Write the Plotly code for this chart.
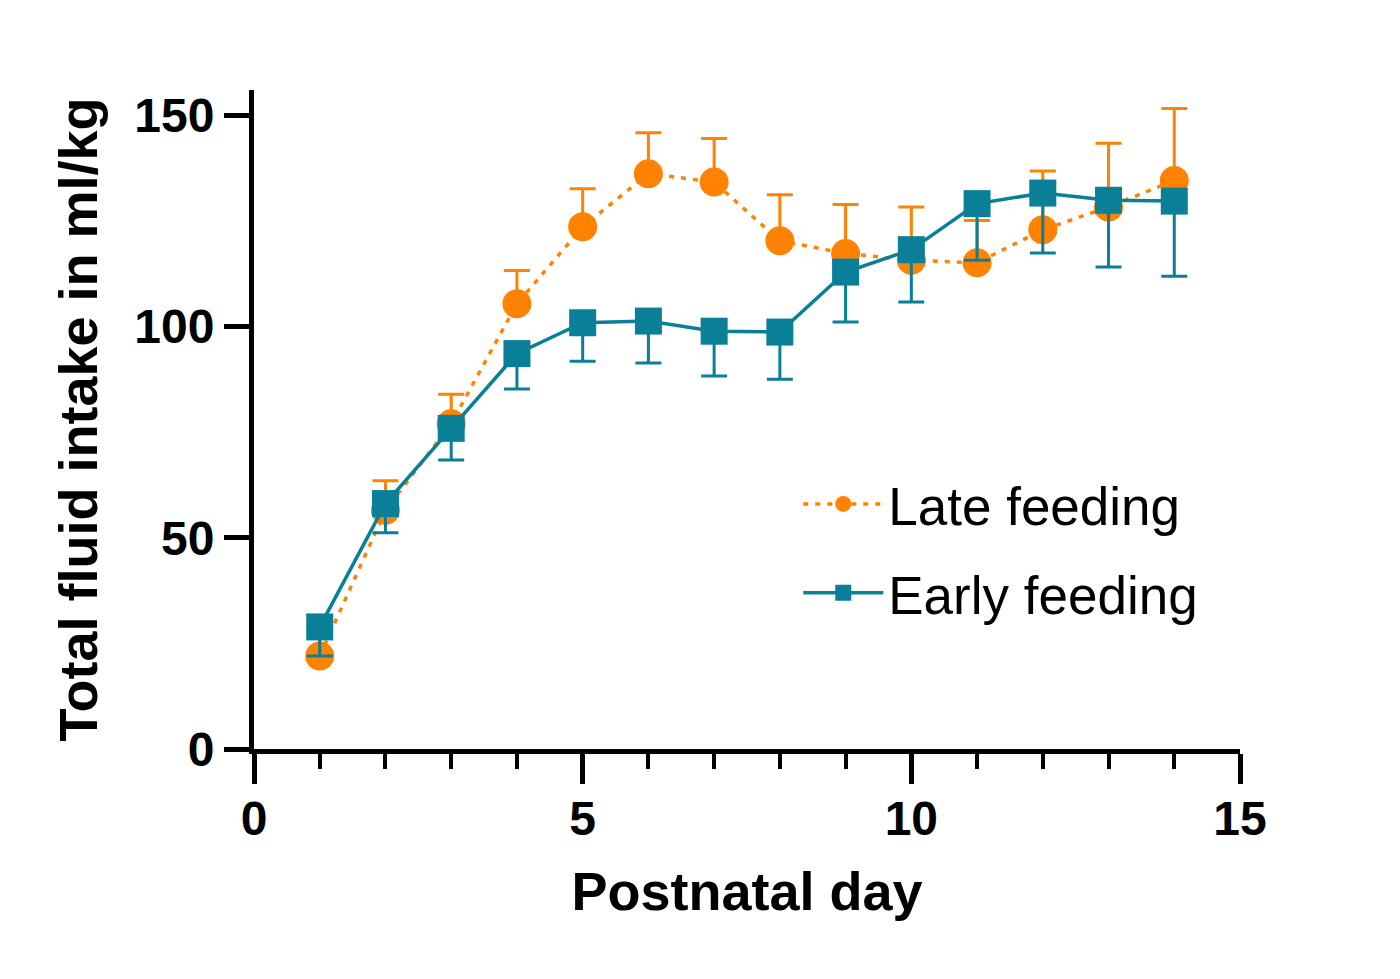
import plotly.graph_objects as go

# 数据
days = [1, 2, 3, 4, 5, 6, 7, 8, 9, 10, 11, 12, 13, 14]
late_mean = [22.0, 56.5, 77.0, 105.4, 123.6, 136.2, 134.2, 120.3, 117.3, 115.7, 115.1, 122.9, 128.3, 134.6]
late_sem = [6.0, 7.0, 7.0, 7.9, 9.0, 9.7, 10.3, 10.9, 11.6, 12.6, 10.0, 13.9, 15.1, 17.0]
early_mean = [28.9, 58.1, 75.9, 93.6, 100.9, 101.3, 98.9, 98.7, 112.9, 118.2, 129.1, 131.6, 129.9, 129.7]
early_sem = [6.9, 6.9, 7.5, 8.4, 9.1, 9.9, 10.6, 11.2, 11.8, 12.4, 13.4, 14.2, 15.8, 17.8]
zeros = [0] * len(days)

ORANGE = '#FF8200'
TEAL = '#0A7F98'
FONT = 'Liberation Sans, Arial, sans-serif'

fig = go.Figure()

# Late feeding: 只画上误差线
fig.add_trace(go.Scatter(
    x=days, y=late_mean,
    name='Late feeding',
    legendgroup='late',
    mode='lines+markers',
    line=dict(color=ORANGE, width=3.5, dash='5px,7px'),
    marker=dict(symbol='circle', size=29, color=ORANGE, line=dict(width=0)),
    error_y=dict(type='data', symmetric=False, array=late_sem, arrayminus=zeros,
                 color=ORANGE, thickness=3, width=13),
))

# Early feeding: 只画下误差线
fig.add_trace(go.Scatter(
    x=days, y=early_mean,
    name='Early feeding',
    legendgroup='early',
    mode='lines+markers',
    line=dict(color=TEAL, width=3.5),
    marker=dict(symbol='square', size=27, color=TEAL, line=dict(width=0)),
    error_y=dict(type='data', symmetric=False, array=zeros, arrayminus=early_sem,
                 color=TEAL, thickness=3, width=13),
))

fig.update_xaxes(
    range=[0, 15], dtick=5, tick0=0,
    showgrid=False, zeroline=False,
    showline=True, linecolor='black', linewidth=5,
    ticks='outside', ticklen=30, tickwidth=5, tickcolor='black',
    minor=dict(dtick=1, ticks='outside', ticklen=15, tickwidth=4, tickcolor='black', showgrid=False),
    tickfont=dict(family=FONT, size=48, color='black', weight='bold'),
    ticklabelstandoff=-7,
    title=dict(text='Postnatal day', standoff=30,
               font=dict(family=FONT, size=54, color='black', weight='bold')),
)
fig.update_yaxes(
    range=[0, 156], dtick=50, tick0=0,
    showgrid=False, zeroline=False,
    showline=True, linecolor='black', linewidth=5,
    ticks='outside', ticklen=25, tickwidth=5, tickcolor='black',
    tickfont=dict(family=FONT, size=48, color='black', weight='bold'),
    ticklabelstandoff=0,
    title=dict(text='Total fluid intake in ml/kg', standoff=21,
               font=dict(family=FONT, size=54, color='black', weight='bold')),
)

fig.update_layout(
    width=1400, height=979,
    margin=dict(l=246, r=168, t=82, b=238),
    plot_bgcolor='white', paper_bgcolor='white',
    showlegend=True,
    legend=dict(
        x=0.552, y=0.434, xanchor='left', yanchor='top',
        font=dict(family=FONT, size=53, color='black'),
        bgcolor='rgba(0,0,0,0)',
        tracegroupgap=17,
        itemsizing='trace',
        itemwidth=80,
    ),
)

fig.write_html("out.html")
